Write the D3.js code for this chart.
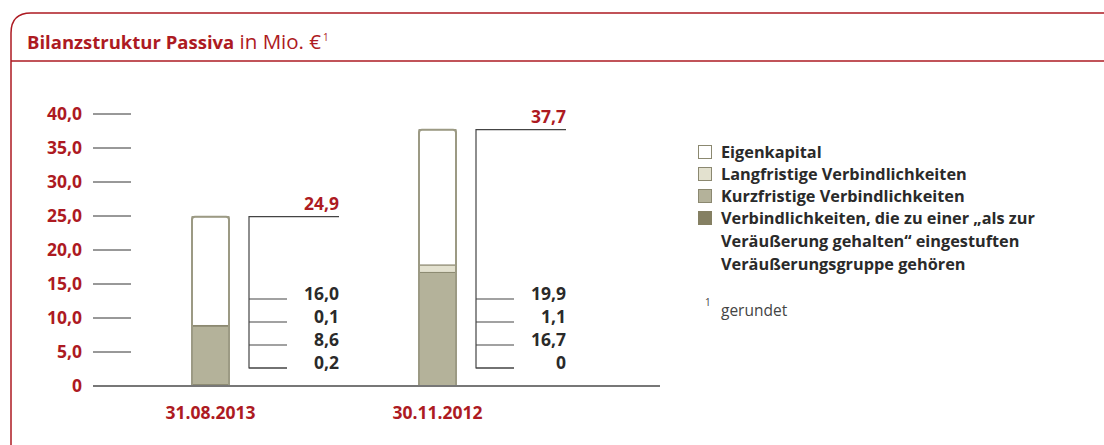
<!DOCTYPE html>
<html>
<head>
<meta charset="utf-8">
<script src="https://cdn.jsdelivr.net/npm/d3@7"></script>
<style>
  body { margin: 0; background: #fff; }
  svg { font-family: "Open Sans", Roboto, sans-serif; }
</style>
</head>
<body>
<svg id="chart" width="1104" height="445"></svg>
<script>
// values in Mio. EUR
const dates = ['31.08.2013', '30.11.2012']
const veraeusserung = [0.2, 0]
const kurzfristig = [8.6, 16.7]
const langfristig = [0.1, 1.1]
const eigenkapital = [16.0, 19.9]
const totals = [24.9, 37.7]
const yTicks = [0, 5, 10, 15, 20, 25, 30, 35, 40]
const legendLabels = [
  ['Eigenkapital'],
  ['Langfristige Verbindlichkeiten'],
  ['Kurzfristige Verbindlichkeiten'],
  ['Verbindlichkeiten, die zu einer „als zur', 'Veräußerung gehalten“ eingestuften', 'Veräußerungsgruppe gehören']
]

const red = '#ad1a22'
const dark = '#2a2a2a'
const keys = ['veraeusserung', 'kurzfristig', 'langfristig', 'eigenkapital']
const colors = { eigenkapital: '#ffffff', langfristig: '#e3e1cf', kurzfristig: '#b4b29a', veraeusserung: '#858063' }

const svg = d3.select('#chart')

// frame
svg.append('path')
  .attr('d', 'M11,445 L11,33 Q11,13 31,13 L1104,13')
  .attr('fill', 'none').attr('stroke', red).attr('stroke-width', 1.5)
svg.append('line').attr('x1', 11).attr('x2', 1104).attr('y1', 61).attr('y2', 61)
  .attr('stroke', red).attr('stroke-width', 1.5)

const title = svg.append('text').attr('x', 27).attr('y', 49).attr('fill', red).style('font-size', '18.5px')
title.append('tspan').attr('font-weight', 'bold').text('Bilanzstruktur Passiva')
title.append('tspan').style('font-size', '20.5px').text(' in Mio. €')
title.append('tspan').attr('dx', 2).attr('dy', -8).style('font-size', '10px').text('1')

const y = d3.scaleLinear().domain([0, 40]).range([386, 114])
const x = d3.scaleBand().domain(dates).range([192, 456]).paddingInner(0.837)

// y axis: labels and short tick lines
const yAxis = svg.append('g')
yTicks.forEach(t => {
  yAxis.append('line').attr('x1', 93).attr('x2', 131).attr('y1', y(t)).attr('y2', y(t))
    .attr('stroke', '#333').attr('stroke-width', 1)
  yAxis.append('text').attr('x', 82).attr('y', y(t)).attr('dy', '0.35em')
    .attr('text-anchor', 'end').attr('fill', red).attr('font-weight', 'bold')
    .style('font-size', '17.5px')
    .text(t === 0 ? '0' : d3.format('.1f')(t).replace('.', ','))
})

// stacked bars
const rows = dates.map((d, i) => ({
  date: d,
  veraeusserung: veraeusserung[i],
  kurzfristig: kurzfristig[i],
  langfristig: langfristig[i],
  eigenkapital: eigenkapital[i]
}))
const stacked = d3.stack().keys(keys)(rows)

svg.append('g').selectAll('g')
  .data(stacked)
  .join('g')
  .attr('fill', d => colors[d.key])
  .selectAll('rect')
  .data(d => d)
  .join('rect')
  .attr('x', d => x(d.data.date))
  .attr('width', x.bandwidth())
  .attr('y', d => y(d[1]))
  .attr('height', d => y(d[0]) - y(d[1]))
  .attr('stroke', '#8b8870')
  .attr('stroke-width', 1)

// outline with rounded top corners
dates.forEach((d, i) => {
  const x0 = x(d), x1 = x(d) + x.bandwidth(), top = y(totals[i]), bot = y(0), r = 3
  svg.append('path')
    .attr('d', `M${x0},${bot} L${x0},${top + r} Q${x0},${top} ${x0 + r},${top} L${x1 - r},${top} Q${x1},${top} ${x1},${top + r} L${x1},${bot}`)
    .attr('fill', 'none').attr('stroke', '#9c9a84').attr('stroke-width', 2)
})

// baseline
svg.append('line').attr('x1', 93).attr('x2', 660).attr('y1', y(0)).attr('y2', y(0))
  .attr('stroke', '#777').attr('stroke-width', 2)

// category labels
svg.append('g').selectAll('text')
  .data(dates)
  .join('text')
  .attr('x', d => x(d) + x.bandwidth() / 2)
  .attr('y', 419)
  .attr('text-anchor', 'middle').attr('fill', red).attr('font-weight', 'bold')
  .style('font-size', '17.5px')
  .text(d => d)

// value brackets
const fmt = v => v === 0 ? '0' : d3.format('.1f')(v).replace('.', ',')
const valueRowsY = [299, 322, 345, 368]
dates.forEach((d, i) => {
  const bx = x(d) + x.bandwidth() + 20
  const top = y(totals[i])
  const g = svg.append('g')
  g.append('path')
    .attr('d', `M${bx + 90},${top} L${bx},${top} L${bx},${valueRowsY[3]} L${bx + 38},${valueRowsY[3]}`)
    .attr('fill', 'none').attr('stroke', '#444').attr('stroke-width', 1.2)
  g.append('text').attr('x', bx + 90).attr('y', top - 7)
    .attr('text-anchor', 'end').attr('fill', red).attr('font-weight', 'bold')
    .style('font-size', '17.5px').text(fmt(totals[i]))
  const vals = [eigenkapital[i], langfristig[i], kurzfristig[i], veraeusserung[i]]
  vals.forEach((v, j) => {
    g.append('line').attr('x1', bx).attr('x2', bx + 38).attr('y1', valueRowsY[j]).attr('y2', valueRowsY[j])
      .attr('stroke', '#444').attr('stroke-width', 1.2)
    g.append('text').attr('x', bx + 90).attr('y', valueRowsY[j]).attr('dy', '0.05em')
      .attr('text-anchor', 'end').attr('fill', dark).attr('font-weight', 'bold')
      .style('font-size', '17.5px').text(fmt(v))
  })
})

// legend
const legendKeys = ['eigenkapital', 'langfristig', 'kurzfristig', 'veraeusserung']
const legend = svg.append('g')
legendKeys.forEach((k, i) => {
  const ly = 152 + i * 22
  legend.append('rect').attr('x', 698.5).attr('y', ly - 6.5).attr('width', 13).attr('height', 13)
    .attr('fill', colors[k]).attr('stroke', k === 'veraeusserung' ? colors[k] : '#8b8870')
  legendLabels[i].forEach((line, j) => {
    legend.append('text').attr('x', 721).attr('y', ly + j * 23).attr('dy', '0.35em')
      .attr('fill', dark).attr('font-weight', 'bold').style('font-size', '16.3px').text(line)
  })
})

// footnote
svg.append('text').attr('x', 705).attr('y', 306).attr('fill', '#444').style('font-size', '10px').text('1')
svg.append('text').attr('x', 721).attr('y', 311).attr('dy', '0.35em').attr('fill', '#444')
  .style('font-size', '15.5px').text('gerundet')
</script>
</body>
</html>
